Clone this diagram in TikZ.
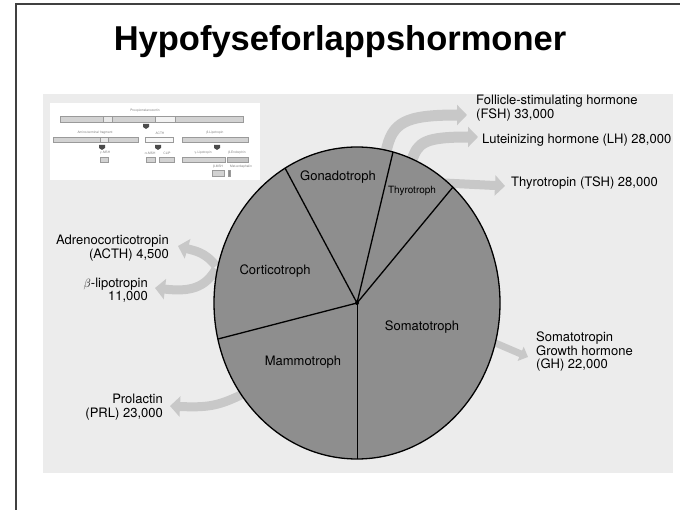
\documentclass[tikz,border=0pt]{standalone}
\usepackage{fontspec}
\setmainfont{TeX Gyre Heros}
\newfontfamily\titlefont{Liberation Sans}
\usetikzlibrary{arrows.meta}
\definecolor{piegray}{HTML}{8E8E8E}
\definecolor{photogray}{HTML}{ECECEC}
\definecolor{arrowgray}{HTML}{C8C8C8}
\definecolor{bargray}{HTML}{D2D2D2}
\definecolor{barline}{HTML}{9A9A9A}

\begin{document}
\begin{tikzpicture}[x=1pt, y=-1pt,
    hormone/.style={font=\fontsize{13}{13.5}\selectfont, inner sep=0pt},
    celltype/.style={font=\fontsize{13}{14}\selectfont, inner sep=1pt},
    hormarrow/.style={draw=arrowgray, line width=11pt, -{Triangle[width=20pt,length=10pt]}},
    bar/.style={fill=bargray, draw=barline, line width=0.3pt},
    tinylabel/.style={font=\fontsize{3.2}{4}\selectfont, text=gray, inner sep=0pt}]
  \useasboundingbox (0,0) rectangle (680,510);

  % slide frame and title
  \draw[line width=1.2pt, black!75] (680,4) -- (16,4) -- (16,510);
  \node[font=\titlefont\bfseries\fontsize{34.5}{40}\selectfont] (title) at (340,42) {Hypofyseforlappshormoner};

  % scanned figure
  \fill[photogray] (43,94) rectangle (673,473);
  \begin{scope}
    \clip (43,94) rectangle (673,473);

    % small proopiomelanocortin inset
    \fill[white] (50,103) rectangle (260,180);
    \node[tinylabel] (pomc) at (145,111) {Proopiomelanocortin};
    \draw[bar] (60,116) rectangle (243,122);
    \draw[bar, fill=bargray!50] (103,116) rectangle (112,122);
    \draw[bar, fill=bargray!30] (155,116) rectangle (175,122);
    \foreach \mx/\my in {146/124, 102/145, 158/145, 217/145}
      \fill[black!70] (\mx-3,\my) -- (\mx+3,\my) -- (\mx+3,\my+3) -- (\mx,\my+5) -- (\mx-3,\my+3) -- cycle;
    \node[tinylabel] (aminofrag) at (95,133) {Amino-terminal fragment};
    \node[tinylabel] (acthsmall) at (160,133) {ACTH};
    \node[tinylabel] (blph) at (215,133) {β-Lipotropin};
    \draw[bar] (53,137) rectangle (138,142);
    \draw[bar, fill=bargray!50] (100,137) rectangle (108,142);
    \draw[bar, fill=bargray!20] (145,137) rectangle (173,142);
    \draw[bar] (182,137) rectangle (248,142);
    \node[tinylabel] (gmsh) at (105,153) {γ-MSH};
    \node[tinylabel] (amsh) at (150,153) {α-MSH};
    \node[tinylabel] (clip) at (167,153) {CLIP};
    \node[tinylabel] (glph) at (203,153) {γ-Lipotropin};
    \node[tinylabel] (bend) at (237,153) {β-Endorphin};
    \draw[bar] (100,157) rectangle (108,162);
    \draw[bar] (146,157) rectangle (155,162);
    \draw[bar] (159,157) rectangle (174,162);
    \draw[bar] (182,157) rectangle (225,162);
    \draw[bar, fill=bargray!130] (227,157) rectangle (248,162);
    \node[tinylabel] (bmsh) at (218,167) {β-MSH};
    \node[tinylabel] (menk) at (241,167) {Met-enkephalin};
    \draw[bar] (212,170) rectangle (224,176);
    \draw[bar, fill=black!45] (228,170) rectangle (230,176);

    % hormone labels
    \node[hormone, anchor=north west, align=left] (fsh) at (476,95) {Follicle-stimulating hormone\\(FSH) 33,000};
    \node[hormone, anchor=west] (lh) at (482,140) {Luteinizing hormone (LH) 28,000};
    \node[hormone, anchor=west] (tsh) at (511,183) {Thyrotropin (TSH) 28,000};
    \node[hormone, anchor=east, align=right] (acth) at (169,248) {Adrenocorticotropin\\(ACTH) 4,500};
    \node[hormone, anchor=east, align=right] (lipo) at (148,290) {$\beta$-lipotropin\\11,000};
    \node[hormone, anchor=east, align=right] (prl) at (163,407) {Prolactin\\(PRL) 23,000};
    \node[hormone, anchor=west, align=left] (gh) at (536,352) {Somatotropin\\Growth hormone\\(GH) 22,000};

    % arrow ends
    \coordinate (fshfoot) at (386,152);
    \coordinate (fshtip) at (467,115);
    \coordinate (lhfoot) at (412,160);
    \coordinate (tshfoot) at (444,183);
    \coordinate (acthfoot) at (216,266);
    \coordinate (lipofoot) at (216,269);
    \coordinate (prlfoot) at (243,394);
    \coordinate (ghfoot) at (493,342);

    \draw[hormarrow] (fshfoot) .. controls (392,122) and (405,115) .. (fshtip);
    \draw[hormarrow] (lhfoot) .. controls (418,142) and (425,137) .. ([xshift=-4pt, yshift=3pt]lh.west);
    \draw[hormarrow, line width=9pt] (tshfoot) -- ([xshift=-6pt, yshift=-3pt]tsh.west);
    \draw[hormarrow, line width=9pt] (acthfoot) .. controls (205,252) and (195,251) .. ([xshift=9pt, yshift=2pt]acth.east);
    \draw[hormarrow, line width=9pt] (lipofoot) .. controls (205,288) and (190,292) .. ([xshift=7pt, yshift=2pt]lipo.east);
    \draw[hormarrow, line width=9pt] (prlfoot) .. controls (220,405) and (210,408) .. ([xshift=7pt, yshift=1pt]prl.east);
    \draw[hormarrow, line width=7pt, -{Triangle[width=15pt,length=8pt]}] (ghfoot) -- ([xshift=-8pt, yshift=-5pt]gh.west);

    % pie of cell types
    \coordinate (c) at (357,303);
    \filldraw[fill=piegray, draw=black, line width=1.3pt] (c) ellipse [x radius=143, y radius=156];
    \coordinate (gonleft) at (285,168);
    \coordinate (gonright) at (393,152);
    \coordinate (thyright) at (453,187);
    \coordinate (somabottom) at (357,459);
    \coordinate (mammoleft) at (218,339);
    \draw[line width=1.3pt] (gonleft) -- (c) -- (gonright);
    \draw[line width=1.3pt] (thyright) -- (c) -- (mammoleft);
    \draw[line width=0.9pt] (c) -- (somabottom);
    \fill (c) circle [radius=2];

    \node[celltype] (gonado) at (338,177) {Gonadotroph};
    \node[celltype, font=\fontsize{10}{11}\selectfont] (thyro) at (412,191) {Thyrotroph};
    \node[celltype] (cortico) at (275,271) {Corticotroph};
    \node[celltype] (somato) at (422,327) {Somatotroph};
    \node[celltype] (mammo) at (303,362) {Mammotroph};
  \end{scope}
\end{tikzpicture}
\end{document}
